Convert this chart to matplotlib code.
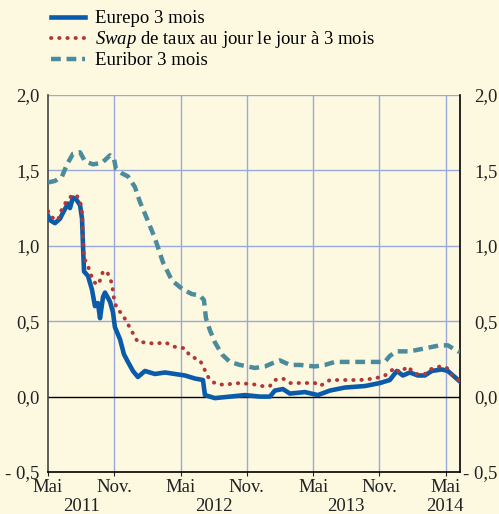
import matplotlib
matplotlib.use("Agg")
import matplotlib.pyplot as plt

# months since May 2011 / rate in %
eurepo_t = [0, 0.18, 0.63, 1.09, 1.36, 1.81, 1.99, 2.26, 2.53, 2.90, 3.08, 3.17, 3.26,
            3.62, 3.98, 4.25, 4.52, 4.71, 4.98, 5.16, 5.61, 5.88, 6.06, 6.52, 6.88,
            7.24, 7.69, 8.14, 8.78, 9.68, 10.59, 11.49, 12.40, 13.30, 14.03, 14.21,
            15.11, 16.47, 17.83, 19.19, 20.09, 20.54, 21.27, 21.90, 23.26, 24.43,
            25.52, 26.88, 28.69, 30.05, 30.95, 31.58, 32.13, 32.76, 33.48, 34.12,
            34.75, 35.66, 36.20, 36.83, 37.29]
eurepo_v = [1.20, 1.17, 1.15, 1.18, 1.22, 1.28, 1.25, 1.32, 1.31, 1.27, 1.18, 1.00, 0.83,
            0.80, 0.71, 0.60, 0.62, 0.52, 0.66, 0.69, 0.63, 0.56, 0.46, 0.38, 0.28,
            0.23, 0.17, 0.13, 0.17, 0.15, 0.16, 0.15, 0.14, 0.12, 0.11, 0.01,
            -0.01, 0.00, 0.01, 0.00, 0.00, 0.04, 0.05, 0.02, 0.03, 0.01,
            0.04, 0.06, 0.07, 0.09, 0.11, 0.17, 0.14, 0.16, 0.14, 0.14,
            0.17, 0.18, 0.17, 0.13, 0.10]

swap_t = [0, 0.18, 0.54, 0.90, 1.18, 1.54, 1.99, 2.26, 2.62, 2.90, 3.08, 3.17, 3.26,
          3.53, 3.80, 4.07, 4.43, 4.71, 4.98, 5.34, 5.79, 5.97, 6.24, 6.70, 7.24,
          7.69, 8.14, 8.78, 9.68, 10.59, 11.49, 12.40, 12.85, 13.76, 14.12, 14.39,
          14.84, 15.38, 16.02, 17.38, 18.73, 19.37, 20.09, 20.54, 21.27, 21.90,
          22.81, 24.16, 24.62, 25.52, 26.88, 28.24, 29.59, 30.50, 31.40, 31.86,
          32.58, 33.21, 34.12, 34.57, 35.48, 36.11, 36.65, 37.29]
swap_v = [1.23, 1.20, 1.18, 1.17, 1.23, 1.28, 1.32, 1.34, 1.33, 1.30, 1.22, 1.05, 0.92,
          0.88, 0.83, 0.77, 0.74, 0.77, 0.83, 0.83, 0.75, 0.65, 0.58, 0.55, 0.48,
          0.42, 0.36, 0.36, 0.35, 0.36, 0.33, 0.32, 0.27, 0.24, 0.19, 0.14,
          0.10, 0.08, 0.08, 0.09, 0.08, 0.07, 0.07, 0.11, 0.12, 0.09,
          0.09, 0.09, 0.07, 0.11, 0.11, 0.11, 0.12, 0.14, 0.19, 0.16,
          0.20, 0.15, 0.15, 0.18, 0.20, 0.19, 0.14, 0.10]

euribor_t = [0, 0.63, 1.27, 1.72, 2.26, 2.90, 3.35, 4.07, 4.89, 5.61, 5.97, 6.15, 6.70,
             7.24, 7.87, 8.33, 8.96, 9.68, 10.41, 11.22, 12.22, 13.03, 13.76, 14.12,
             14.30, 14.66, 15.11, 15.75, 16.47, 17.38, 18.73, 19.64, 20.27, 21.00,
             21.90, 22.81, 24.16, 25.07, 25.97, 26.88, 28.24, 29.59, 30.50, 30.95,
             31.58, 32.76, 34.12, 35.48, 36.20, 37.10, 37.29]
euribor_v = [1.42, 1.43, 1.46, 1.54, 1.61, 1.62, 1.56, 1.54, 1.55, 1.60, 1.58, 1.51, 1.48,
             1.46, 1.39, 1.29, 1.18, 1.05, 0.89, 0.77, 0.71, 0.68, 0.67, 0.64,
             0.52, 0.44, 0.36, 0.28, 0.23, 0.21, 0.19, 0.20, 0.22, 0.24,
             0.21, 0.21, 0.20, 0.21, 0.23, 0.23, 0.23, 0.23, 0.23, 0.27,
             0.30, 0.30, 0.32, 0.34, 0.34, 0.30, 0.30]

month_ticks = [0, 6, 12, 18, 24, 30, 36]
month_labels = ['Mai', 'Nov.', 'Mai', 'Nov.', 'Mai', 'Nov.', 'Mai']
year_pos = [3, 15, 27, 35.9]
year_labels = ['2011', '2012', '2013', '2014']
y_ticks = [-0.5, 0.0, 0.5, 1.0, 1.5, 2.0]
y_labels = ['- 0,5', '0,0', '0,5', '1,0', '1,5', '2,0']

bg = '#fdf9e1'
grid_c = '#9aa9dd'
txt_c = '#222222'

plt.rcParams['font.family'] = ['Liberation Serif', 'DejaVu Serif']
plt.rcParams['mathtext.fontset'] = 'custom'
plt.rcParams['mathtext.it'] = 'Liberation Serif:italic'
plt.rcParams['mathtext.rm'] = 'Liberation Serif'

fig = plt.figure(figsize=(4.99, 5.14), dpi=100, facecolor=bg)
ax = fig.add_axes([0.0962, 0.0817, 0.8256, 0.7335], facecolor=bg)

ax.plot(eurepo_t, eurepo_v, color='#0b5bab', lw=3.3, solid_joinstyle='round',
        label='Eurepo 3 mois', zorder=3)
ax.plot(swap_t, swap_v, color='#b23838', lw=2.8, linestyle=(0, (0.1, 2.0)),
        dash_capstyle='round', label=r'$\it{Swap}$ de taux au jour le jour à 3 mois',
        zorder=4)
ax.plot(euribor_t, euribor_v, color='#4b8b9c', lw=3.2, linestyle=(0, (2.2, 1.3)),
        label='Euribor 3 mois', zorder=3)

ax.set_xlim(0, 37.3)
ax.set_ylim(-0.5, 2.0)

for m in month_ticks[1:]:
    ax.axvline(m, color=grid_c, lw=1.0, zorder=1)
for y in [0.5, 1.0, 1.5, 2.0]:
    ax.axhline(y, color=grid_c, lw=1.0, zorder=1)
ax.axhline(0, color='black', lw=1.0, zorder=2)

ax.spines['top'].set_visible(False)
ax.spines['left'].set_color('#444444')
ax.spines['left'].set_linewidth(1.2)
ax.spines['right'].set_color('black')
ax.spines['right'].set_linewidth(1.2)
ax.spines['bottom'].set_linewidth(1.2)

ax.set_yticks(y_ticks)
ax.set_yticklabels(y_labels)
ax.tick_params(axis='y', length=0, labelsize=13.5, pad=6, colors=txt_c)

# right-hand labels, right aligned at the figure edge
ax2 = ax.twinx()
ax2.set_ylim(ax.get_ylim())
ax2.set_yticks(y_ticks)
ax2.set_yticklabels(y_labels, ha='right')
ax2.tick_params(axis='y', length=0, labelsize=13.5, pad=27, colors=txt_c)
for s in ax2.spines.values():
    s.set_visible(False)

ax.set_xticks(month_ticks)
ax.set_xticklabels(month_labels)
ax.tick_params(axis='x', direction='out', length=3, labelsize=13.5, pad=2,
               colors=txt_c)

# year labels under the month labels
for p, lab in zip(year_pos, year_labels):
    ax.text(p, -0.67, lab, ha='center', va='top', fontsize=13.5, color=txt_c)

ax.legend(loc='upper left', bbox_to_anchor=(0.088, 0.995), bbox_transform=fig.transFigure,
          frameon=False, fontsize=13.5, handlelength=1.8, handletextpad=0.5,
          labelspacing=0.1, borderaxespad=0)

fig.savefig('out.png', dpi=100, facecolor=bg)
